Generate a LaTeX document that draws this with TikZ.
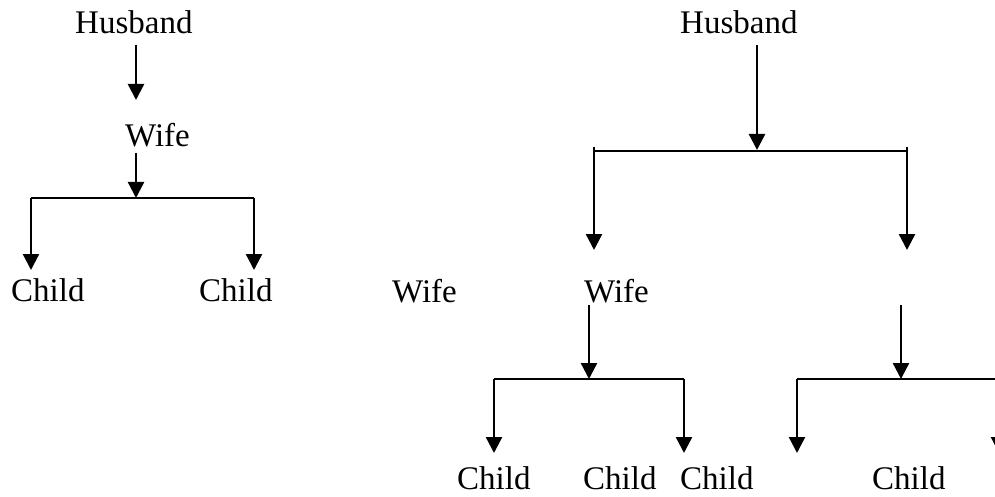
\documentclass[tikz,border=0pt]{standalone}
\usepackage{fontspec}
\setmainfont{Liberation Serif}
\usetikzlibrary{arrows.meta, positioning}
\tikzstyle{person} = [inner sep=0, text depth=0pt, anchor=base west, font=\fontsize{33}{39}\selectfont]
\tikzstyle{link} = [line width=2.4pt, -{Triangle[length=16pt, width=16pt]}]
\tikzstyle{bar} = [line width=2pt]

\begin{document}
\begin{tikzpicture}[x=1pt, y=-1pt]
	\useasboundingbox (0, 0) rectangle (995, 497);

	% one husband, one wife
	\node (HusbandL) [person] at (75, 34) {Husband};
	\coordinate (HusbandLOut) at (136, 45);
	\coordinate (WifeLIn) at (136, 100);
	\draw [link] (HusbandLOut) -- (WifeLIn);

	\node (WifeL) [person] at (125, 147) {Wife};
	\coordinate (WifeLOut) at (136, 153);
	\coordinate (SplitL) at (136, 198);
	\draw [link] (WifeLOut) -- (SplitL);

	\coordinate (BarL1) at (31, 198);
	\coordinate (BarL2) at (254, 198);
	\draw [bar] (BarL1) -- (BarL2);

	\node (ChildL1) [person] at (11, 301) {Child};
	\node (ChildL2) [person] at (199, 301) {Child};
	\coordinate (ChildL1In) at (31, 270);
	\coordinate (ChildL2In) at (254, 270);
	\draw [link] (BarL1) -- (ChildL1In);
	\draw [link] (BarL2) -- (ChildL2In);

	% one husband, two wives
	\node (HusbandR) [person] at (680, 34) {Husband};
	\coordinate (HusbandROut) at (757, 45);
	\coordinate (SplitR) at (757, 150);
	\draw [link] (HusbandROut) -- (SplitR);

	\coordinate (BarR1) at (594, 151);
	\coordinate (BarR2) at (907, 151);
	\draw [bar] (BarR1) -- (BarR2);
	\coordinate (BarR1Top) at (594, 147);
	\coordinate (BarR2Top) at (907, 147);
	\coordinate (WifeR1In) at (594, 250);
	\coordinate (WifeR2In) at (907, 250);
	\draw [link] (BarR1Top) -- (WifeR1In);
	\draw [link] (BarR2Top) -- (WifeR2In);

	\node (WifeM) [person] at (392, 302) {Wife};
	\node (WifeR1) [person] at (584, 302) {Wife};

	% first wife's children
	\coordinate (WifeR1Out) at (589, 305);
	\coordinate (SplitR1) at (589, 379);
	\draw [link] (WifeR1Out) -- (SplitR1);
	\coordinate (BarR11) at (494, 379);
	\coordinate (BarR12) at (684, 379);
	\draw [bar] (BarR11) -- (BarR12);
	\coordinate (ChildR1In) at (494, 453);
	\coordinate (ChildR2In) at (684, 453);
	\draw [link] (BarR11) -- (ChildR1In);
	\draw [link] (BarR12) -- (ChildR2In);

	% second wife's children
	\coordinate (WifeR2Out) at (901, 305);
	\coordinate (SplitR2) at (901, 379);
	\draw [link] (WifeR2Out) -- (SplitR2);
	\coordinate (BarR21) at (797, 379);
	\coordinate (BarR22) at (999, 379);
	\draw [bar] (BarR21) -- (BarR22);
	\coordinate (ChildR3In) at (797, 453);
	\coordinate (ChildR4In) at (999, 453);
	\draw [link] (BarR21) -- (ChildR3In);
	\draw [link] (BarR22) -- (ChildR4In);

	\node (ChildR1) [person] at (457, 489) {Child};
	\node (ChildR2) [person] at (583, 489) {Child};
	\node (ChildR3) [person] at (680, 489) {Child};
	\node (ChildR4) [person] at (872, 489) {Child};
\end{tikzpicture}
\end{document}
